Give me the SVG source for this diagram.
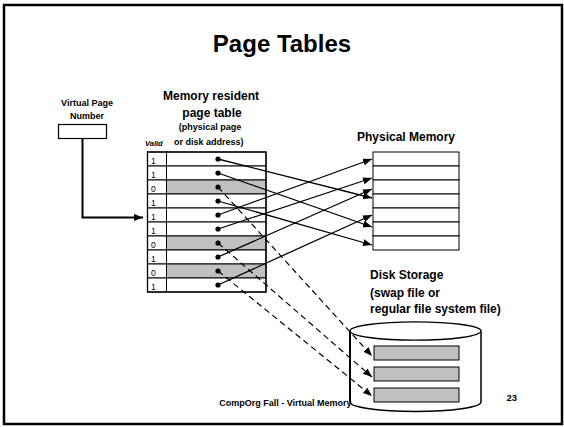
<svg xmlns="http://www.w3.org/2000/svg" width="564" height="427" viewBox="0 0 564 427">
<style>
text{font-family:"Liberation Sans",Arial,sans-serif;fill:#000}
.b{font-weight:bold}
.cell{fill:#fff;stroke:#000;stroke-width:1}
.gray{fill:#c0c0c0;stroke:#000;stroke-width:1}
.v{font-size:8.5px}
.ln{stroke:#000;stroke-width:1.3;fill:none}
.dl{stroke:#000;stroke-width:1.2;fill:none;stroke-dasharray:6 4}
.dot{fill:#000}
</style>
<defs>
<marker id="ah" markerUnits="userSpaceOnUse" markerWidth="10" markerHeight="8" refX="9" refY="3.5" orient="auto">
<path d="M0,0 L9,3.5 L0,7 z" fill="#000"/>
</marker>
</defs>
<rect x="0" y="0" width="564" height="427" fill="#fff"/>
<rect id="frame" x="4" y="5" width="558" height="419" fill="none" stroke="#000" stroke-width="2.5"/>

<g id="title"><text class="b" x="282" y="52" font-size="24" text-anchor="middle">Page Tables</text></g>

<g id="vpn">
<text class="b" x="87" y="105.5" font-size="9" text-anchor="middle">Virtual Page</text>
<text class="b" x="87" y="118.5" font-size="9" text-anchor="middle">Number</text>
<rect x="58.5" y="124.5" width="48" height="14" fill="#fff" stroke="#000" stroke-width="1.2"/>
</g>

<g id="page-table">
<text class="b" x="211" y="100" font-size="12" text-anchor="middle">Memory resident</text>
<text class="b" x="212" y="116.5" font-size="12" text-anchor="middle">page table</text>
<text class="b" x="210" y="130" font-size="9" text-anchor="middle">(physical page</text>
<text class="b" x="174" y="145" font-size="9">or disk address)</text>
<text class="b" x="145" y="145.5" font-size="7.5" font-style="italic">Valid</text>
<rect class="cell" x="147.5" y="152" width="19" height="14"/><rect class="cell" x="166.5" y="152" width="99.5" height="14"/>
<rect class="cell" x="147.5" y="166" width="19" height="14"/><rect class="cell" x="166.5" y="166" width="99.5" height="14"/>
<rect class="cell" x="147.5" y="180" width="19" height="14"/><rect class="gray" x="166.5" y="180" width="99.5" height="14"/>
<rect class="cell" x="147.5" y="194" width="19" height="14"/><rect class="cell" x="166.5" y="194" width="99.5" height="14"/>
<rect class="cell" x="147.5" y="208" width="19" height="14"/><rect class="cell" x="166.5" y="208" width="99.5" height="14"/>
<rect class="cell" x="147.5" y="222" width="19" height="14"/><rect class="cell" x="166.5" y="222" width="99.5" height="14"/>
<rect class="cell" x="147.5" y="236" width="19" height="14"/><rect class="gray" x="166.5" y="236" width="99.5" height="14"/>
<rect class="cell" x="147.5" y="250" width="19" height="14"/><rect class="cell" x="166.5" y="250" width="99.5" height="14"/>
<rect class="cell" x="147.5" y="264" width="19" height="14"/><rect class="gray" x="166.5" y="264" width="99.5" height="14"/>
<rect class="cell" x="147.5" y="278" width="19" height="14"/><rect class="cell" x="166.5" y="278" width="99.5" height="14"/>
<rect x="147.5" y="152" width="118.5" height="140" fill="none" stroke="#000" stroke-width="1.3"/>
<text class="v" x="151" y="163.5">1</text>
<text class="v" x="151" y="177.5">1</text>
<text class="v" x="151" y="191.5">0</text>
<text class="v" x="151" y="205.5">1</text>
<text class="v" x="151" y="219.5">1</text>
<text class="v" x="151" y="233.5">1</text>
<text class="v" x="151" y="247.5">0</text>
<text class="v" x="151" y="261.5">1</text>
<text class="v" x="151" y="275.5">0</text>
<text class="v" x="151" y="289.5">1</text>
<circle class="dot" cx="218" cy="159" r="2.6"/>
<circle class="dot" cx="218" cy="173" r="2.6"/>
<circle class="dot" cx="218" cy="187" r="2.6"/>
<circle class="dot" cx="218" cy="201" r="2.6"/>
<circle class="dot" cx="218" cy="215" r="2.6"/>
<circle class="dot" cx="218" cy="229" r="2.6"/>
<circle class="dot" cx="218" cy="243" r="2.6"/>
<circle class="dot" cx="218" cy="257" r="2.6"/>
<circle class="dot" cx="218" cy="271" r="2.6"/>
<circle class="dot" cx="218" cy="285" r="2.6"/>
</g>

<g id="physical-memory">
<text class="b" x="357" y="141" font-size="12">Physical Memory</text>
<rect class="cell" x="373" y="152" width="86" height="14"/>
<rect class="cell" x="373" y="166" width="86" height="14"/>
<rect class="cell" x="373" y="180" width="86" height="14"/>
<rect class="cell" x="373" y="194" width="86" height="14"/>
<rect class="cell" x="373" y="208" width="86" height="14"/>
<rect class="cell" x="373" y="222" width="86" height="14"/>
<rect class="cell" x="373" y="236" width="86" height="14"/>
</g>

<g id="disk">
<text class="b" x="370" y="278.5" font-size="12">Disk Storage</text>
<text class="b" x="370" y="297" font-size="12">(swap file or</text>
<text class="b" x="370" y="313" font-size="12">regular file system file)</text>
<path d="M350,331 L350,402 A65.5,9.5 0 0 0 481,402 L481,331" fill="#fff" stroke="#000" stroke-width="1.5"/>
<ellipse cx="415.5" cy="331" rx="65.5" ry="9.2" fill="#fff" stroke="#000" stroke-width="1.3"/>
<line x1="350" y1="331" x2="350" y2="402" stroke="#000" stroke-width="2"/>
<rect class="gray" x="374" y="346" width="85" height="14"/>
<rect class="gray" x="374" y="367" width="85" height="14"/>
<rect class="gray" x="374" y="388" width="85" height="14"/>
</g>

<g id="connectors">
<path d="M82.5,139 L82.5,217.5 L143,217.5" fill="none" stroke="#000" stroke-width="2" marker-end="url(#ah)"/>
<line class="ln" x1="218" y1="159" x2="372" y2="198" marker-end="url(#ah)"/>
<line class="ln" x1="218" y1="173" x2="372" y2="227" marker-end="url(#ah)"/>
<line class="ln" x1="218" y1="201" x2="372" y2="245" marker-end="url(#ah)"/>
<line class="ln" x1="218" y1="215" x2="372" y2="159" marker-end="url(#ah)"/>
<line class="ln" x1="218" y1="229" x2="372" y2="178" marker-end="url(#ah)"/>
<line class="ln" x1="218" y1="257" x2="372" y2="189" marker-end="url(#ah)"/>
<line class="ln" x1="218" y1="285" x2="372" y2="215" marker-end="url(#ah)"/>
<line class="dl" x1="218" y1="187" x2="372" y2="356" marker-end="url(#ah)"/>
<line class="dl" x1="218" y1="243" x2="372" y2="377" marker-end="url(#ah)"/>
<line class="dl" x1="218" y1="271" x2="372" y2="396" marker-end="url(#ah)"/>
</g>

<g id="footer">
<text class="b" x="351.5" y="406" font-size="9" text-anchor="end">CompOrg Fall - Virtual Memory</text>
<text class="b" x="506.5" y="401" font-size="9.5">23</text>
</g>
</svg>
